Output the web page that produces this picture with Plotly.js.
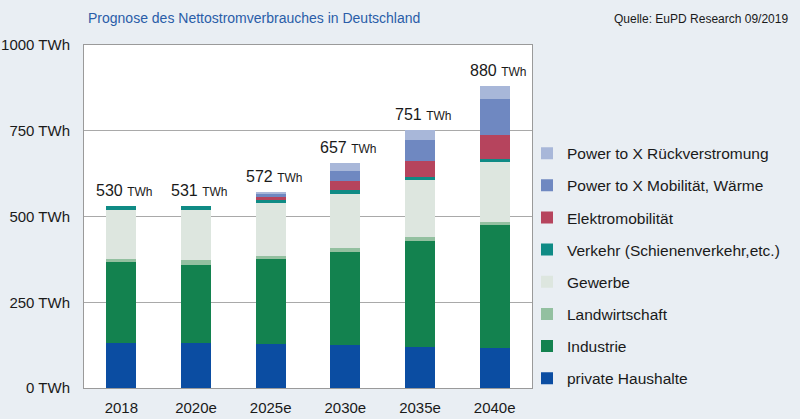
<!DOCTYPE html>
<html>
<head>
<meta charset="utf-8">
<script src="https://cdn.plot.ly/plotly-3.0.1.min.js"></script>
<style>
  html, body { margin: 0; padding: 0; background: #e9eef3; }
  #chart { width: 800px; height: 419px; }
</style>
</head>
<body>
<div id="chart"></div>
<script>
// Categories (tick labels)
const years = ['2018', '2020e', '2025e', '2030e', '2035e', '2040e'];
const positions = [0, 1, 2, 3, 4, 5];

// Series values (TWh)
const privateHaushalte = [130, 131, 127, 125, 120, 116];
const industrie        = [236, 229, 249, 272, 308, 360];
const landwirtschaft   = [11, 12, 10, 10, 11, 9];
const gewerbe          = [142, 147, 153, 160, 167, 174];
const verkehr          = [11, 12, 9, 10, 10, 10];
const elektromobilitaet = [0, 0, 8, 26, 47, 70];
const ptxMobilitaet    = [0, 0, 12, 29, 60, 105];
const ptxRueck         = [0, 0, 4, 25, 28, 36];

// Total labels
const totals = [530, 531, 572, 657, 751, 880];

// Y tick labels
const yTickVals = [0, 250, 500, 750, 1000];
const yTickText = ['0 TWh', '250 TWh', '500 TWh', '750 TWh', '1000 TWh'];

const seriesNames = [
  'private Haushalte', 'Industrie', 'Landwirtschaft', 'Gewerbe',
  'Verkehr (Schienenverkehr,etc.)', 'Elektromobilität',
  'Power to X Mobilität, Wärme', 'Power to X Rückverstromung'
];
const seriesValues = [privateHaushalte, industrie, landwirtschaft, gewerbe,
  verkehr, elektromobilitaet, ptxMobilitaet, ptxRueck];
const seriesColors = ['#0b4da2', '#13824f', '#93c0a0', '#dde6df',
  '#0f8b85', '#b6445d', '#6f88c1', '#a8b7d9'];

const traces = seriesNames.map((n, i) => ({
  type: 'bar',
  name: n,
  x: positions,
  y: seriesValues[i],
  width: 0.4,
  marker: { color: seriesColors[i] },
  legendgroup: 'g' + i,
  legendrank: 100 - i
}));

const annotations = positions.map((p, i) => ({
  x: p, y: totals[i], xref: 'x', yref: 'y',
  text: totals[i] + ' <span style="font-size:12px">TWh</span>',
  showarrow: false, yanchor: 'bottom', xanchor: 'center',
  xshift: 3, yshift: 5,
  font: { family: 'Liberation Sans, Arial, sans-serif', size: 16, color: '#1a1a1a' }
}));

annotations.push({
  text: 'Quelle: EuPD Research 09/2019',
  xref: 'paper', yref: 'paper', x: (790 - 84) / 448, y: 1.0, xanchor: 'right', yanchor: 'bottom',
  showarrow: false, yshift: 17,
  font: { family: 'Liberation Sans, Arial, sans-serif', size: 12, color: '#1a1a1a' }
});

const layout = {
  width: 800, height: 419,
  paper_bgcolor: '#e9eef3',
  plot_bgcolor: '#ffffff',
  margin: { l: 84, r: 268, t: 45, b: 31, autoexpand: false },
  barmode: 'stack',
  showlegend: true,
  font: { family: 'Liberation Sans, Arial, sans-serif', size: 15, color: '#1a1a1a' },
  title: {
    text: 'Prognose des Nettostromverbrauches in Deutschland',
    x: 88 / 800, xref: 'container', xanchor: 'left',
    y: 1 - 18 / 419, yref: 'container', yanchor: 'middle',
    font: { family: 'Liberation Sans, Arial, sans-serif', size: 14, color: '#2a5da8' }
  },
  xaxis: {
    type: 'linear',
    range: [-0.5, 5.5],
    tickmode: 'array',
    tickvals: positions,
    ticktext: years,
    showgrid: false,
    zeroline: false,
    showline: true, mirror: true, linecolor: '#9a9a9a', linewidth: 1,
    ticks: 'outside', ticklen: 6, tickcolor: 'rgba(0,0,0,0)',
    tickfont: { size: 15, color: '#1a1a1a' }
  },
  yaxis: {
    type: 'linear',
    range: [0, 1000],
    tickmode: 'array',
    tickvals: yTickVals,
    ticktext: yTickText,
    showgrid: true, gridcolor: '#a9a9a9', gridwidth: 1,
    zeroline: false,
    showline: true, mirror: true, linecolor: '#9a9a9a', linewidth: 1,
    ticks: 'outside', ticklen: 10, tickcolor: 'rgba(0,0,0,0)',
    tickfont: { size: 15, color: '#1a1a1a' }
  },
  legend: {
    xref: 'paper',
    x: (527 - 84) / 448, y: 0.733, xanchor: 'left', yanchor: 'top',
    traceorder: 'grouped',
    tracegroupgap: 9,
    itemwidth: 30,
    bgcolor: 'rgba(0,0,0,0)',
    font: { size: 15.5, color: '#1a1a1a' }
  },
  annotations: annotations
};

Plotly.newPlot('chart', traces, layout, { displayModeBar: false });
</script>
</body>
</html>
